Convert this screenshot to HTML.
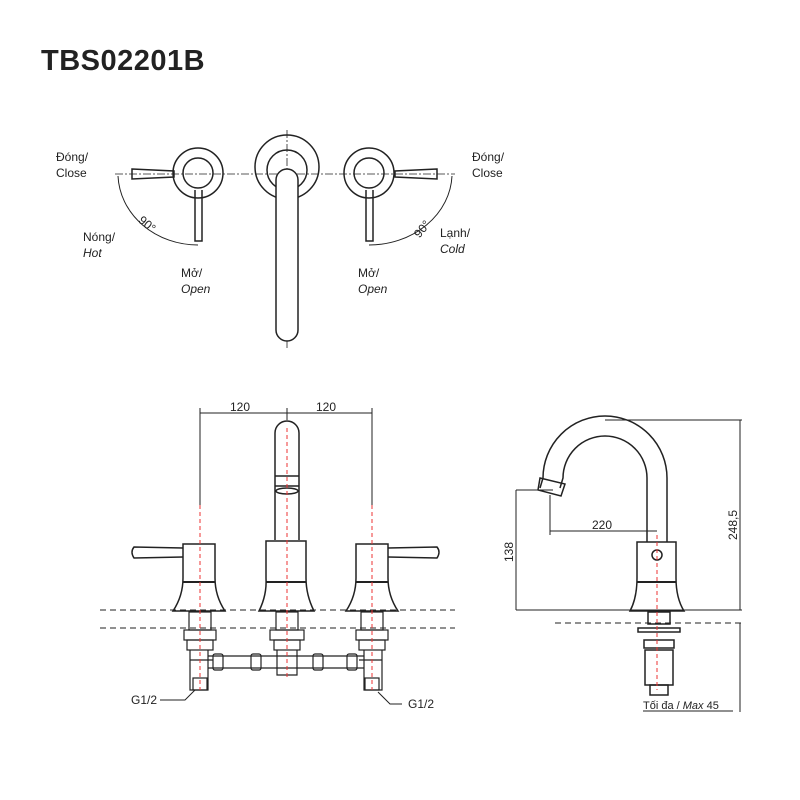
<!DOCTYPE html>
<html><head><meta charset="utf-8"><style>
body{margin:0;background:#fff}
svg{display:block}
text{font-family:"Liberation Sans",sans-serif;fill:#222}
</style></head><body>
<svg width="800" height="800" viewBox="0 0 800 800" xmlns="http://www.w3.org/2000/svg">
<text x="41" y="70" font-size="29" font-weight="bold" fill="#111" letter-spacing="0.5">TBS02201B</text>
<g fill="none" stroke="#222" stroke-width="1.5">
<!-- top view -->
<line x1="115" y1="174" x2="455" y2="174" stroke-dasharray="8,2,2,2" stroke-width="0.8"/>
<line x1="287" y1="130" x2="287" y2="350" stroke-dasharray="8,2,2,2" stroke-width="0.8"/>
<circle cx="198" cy="173" r="25"/><circle cx="198" cy="173" r="15"/>
<circle cx="369" cy="173" r="25"/><circle cx="369" cy="173" r="15"/>
<circle cx="287" cy="167" r="32"/><circle cx="287" cy="170" r="20"/>
<path d="M276 200 V330 A11 11 0 0 0 298 330 V180 A11 11 0 0 0 276 180 Z" fill="#fff"/>
<path d="M132 169 L174 171 L174 177 L132 179 Z"/>
<path d="M437 169 L395 171 L395 177 L437 179 Z"/>
<path d="M195 190 L195 241 L202 241 L202 190"/>
<path d="M366 190 L366 241 L373 241 L373 190"/>
<path d="M118 176 A80 72 0 0 0 198 245" stroke-width="1"/>
<path d="M452 176 A83 72 0 0 1 369 245" stroke-width="1"/>
<!-- front view dims -->
<line x1="200" y1="413" x2="372" y2="413" stroke-width="1"/>
<line x1="200" y1="408" x2="200" y2="505" stroke-width="1"/>
<line x1="372" y1="408" x2="372" y2="505" stroke-width="1"/>
<line x1="287" y1="408" x2="287" y2="420" stroke-width="1"/>
<!-- spout -->
<path d="M275 540 V433 A12 12 0 0 1 299 433 V540"/>
<path d="M275 476 H299 M275 486 H299"/>
<ellipse cx="287" cy="491" rx="11" ry="3"/>
<path d="M266 541 H306 V578 Q306 595 314 611 H259 Q267 595 266 578 Z"/>
<line x1="266" y1="582" x2="306" y2="582" stroke-width="2"/>
<!-- handles -->
<path d="M183 544 H215 V578 Q215 596 225 611 H173 Q183 596 183 578 Z"/>
<line x1="183" y1="582" x2="215" y2="582" stroke-width="2"/>
<path d="M183 548 L134 547 Q130 552 134 558 L183 557"/>
<path d="M356 544 H388 V578 Q388 596 398 611 H346 Q356 596 356 578 Z"/>
<line x1="356" y1="582" x2="388" y2="582" stroke-width="2"/>
<path d="M388 548 L437 547 Q441 552 437 558 L388 557"/>
<!-- dashed -->
<line x1="100" y1="610" x2="455" y2="610" stroke-dasharray="6,4" stroke-width="1"/>
<line x1="100" y1="628" x2="455" y2="628" stroke-dasharray="6,4" stroke-width="1"/>
<!-- fittings -->
<g stroke-width="1.2">
<rect x="189" y="612" width="22" height="18"/><rect x="184" y="630" width="32" height="10"/><rect x="187" y="640" width="26" height="10"/>
<path d="M190 650 V690 H208 V650 M190 660 H213"/><rect x="193" y="678" width="14" height="12"/>
<rect x="276" y="612" width="22" height="18"/><rect x="270" y="630" width="34" height="10"/><rect x="274" y="640" width="26" height="10"/>
<path d="M277 650 V675 H297 V650"/>
<rect x="361" y="612" width="22" height="18"/><rect x="356" y="630" width="32" height="10"/><rect x="359" y="640" width="26" height="10"/>
<path d="M364 650 V690 H382 V650 M359 660 H382"/><rect x="365" y="678" width="14" height="12"/>
<line x1="208" y1="656" x2="364" y2="656"/><line x1="208" y1="668" x2="364" y2="668"/>
<rect x="213" y="654" width="10" height="16" rx="2"/><rect x="251" y="654" width="10" height="16" rx="2"/>
<rect x="313" y="654" width="10" height="16" rx="2"/><rect x="347" y="654" width="10" height="16" rx="2"/>
</g>
<path d="M160 700 H185 L195 690" stroke-width="1"/>
<path d="M402 704 H390 L378 692" stroke-width="1"/>
<!-- side view -->
<path d="M647 542 V478 A42 42 0 0 0 563 478 L560 488 M667 542 V478 A62 62 0 0 0 543 478 L540 488" />
<path d="M540 478 L565 484 L561 496 L538 490 Z"/>
<path d="M637 542 H676 V578 Q676 598 684 611 H630 Q637 598 637 578 Z"/>
<line x1="637" y1="582" x2="676" y2="582" stroke-width="2"/>
<circle cx="657" cy="555" r="5"/>
<rect x="648" y="612" width="22" height="12"/><rect x="638" y="628" width="42" height="4"/>
<rect x="644" y="640" width="30" height="8"/><path d="M645 650 H673 V685 H645 Z"/><rect x="650" y="685" width="18" height="10"/>
<g stroke-width="1">
<line x1="605" y1="420" x2="742" y2="420"/>
<line x1="740" y1="420" x2="740" y2="610"/>
<line x1="516" y1="610" x2="742" y2="610"/>
<line x1="516" y1="490" x2="553" y2="490"/>
<line x1="516" y1="490" x2="516" y2="610"/>
<line x1="550" y1="531" x2="657" y2="531"/>
<line x1="550" y1="495" x2="550" y2="535"/>
<line x1="555" y1="623" x2="742" y2="623" stroke-dasharray="6,4"/>
<line x1="555" y1="610" x2="630" y2="610" stroke-dasharray="6,4"/>
<line x1="740" y1="623" x2="740" y2="712"/>
<line x1="643" y1="711" x2="733" y2="711"/>
</g>
</g>
<g stroke="#e33" stroke-width="1" stroke-dasharray="4,3">
<line x1="200" y1="505" x2="200" y2="690"/>
<line x1="372" y1="505" x2="372" y2="690"/>
<line x1="287" y1="428" x2="287" y2="680"/>
<line x1="657" y1="535" x2="657" y2="690"/>
</g>
<g font-size="12">
<text x="56" y="161">Đóng/</text><text x="56" y="177">Close</text>
<text x="472" y="161">Đóng/</text><text x="472" y="177">Close</text>
<text x="83" y="241">Nóng/</text><text x="83" y="257" font-style="italic">Hot</text>
<text x="440" y="237">Lạnh/</text><text x="440" y="253" font-style="italic">Cold</text>
<text x="181" y="277">Mở/</text><text x="181" y="293" font-style="italic">Open</text>
<text x="358" y="277">Mở/</text><text x="358" y="293" font-style="italic">Open</text>
<text x="137" y="227" transform="rotate(40 145 225)">90°</text>
<text x="413" y="235" transform="rotate(-50 420 230)">90°</text>
<text x="230" y="411">120</text><text x="316" y="411">120</text>
<text x="131" y="704">G1/2</text><text x="408" y="708">G1/2</text>
<text x="592" y="529">220</text>
<text x="0" y="0" transform="translate(513,562) rotate(-90)">138</text>
<text x="0" y="0" transform="translate(737,540) rotate(-90)">248,5</text>
<text x="643" y="709" font-size="11">Tối đa / <tspan font-style="italic">Max</tspan> 45</text>
</g>
</svg>
</body></html>
